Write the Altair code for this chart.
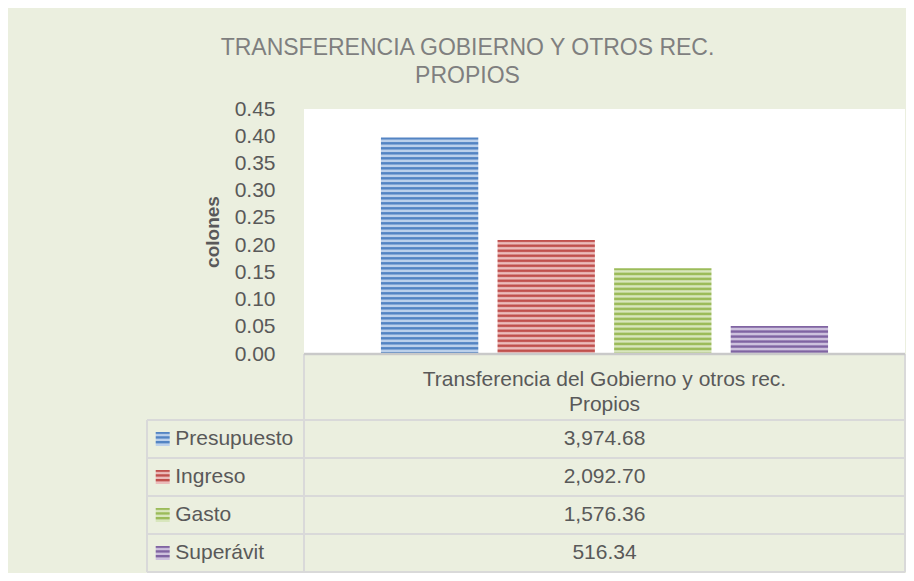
import altair as alt
import pandas as pd

# ---- data ----
series = ["Presupuesto", "Ingreso", "Gasto", "Superávit"]
values = [3974.68, 2092.70, 1576.36, 516.34]
category = "Transferencia del Gobierno y otros rec.\nPropios"
y_ticks = [0.00, 0.05, 0.10, 0.15, 0.20, 0.25, 0.30, 0.35, 0.40, 0.45]
title_lines = ["TRANSFERENCIA GOBIERNO Y OTROS REC.", "PROPIOS"]
axis_title = "colones"
axis_divisor = 10000  # bars are drawn on the axis in units of 10,000

# ---- styling ----
dark = ["#5384C3", "#C0504D", "#9BBB59", "#8064A2"]
light = ["#BBD0EB", "#EBBCBB", "#D8E6BD", "#CDC1DD"]
FONT = "Liberation Sans"
TXT = "#595959"
GRID = "#D9D9D9"
BG = "#EBEFDF"
W, H = 601, 245
YMAX = 0.45


def stripes(c_dark, c_light, h, period=5.0):
    profile = [(0.0, c_dark), (1.3, c_dark), (2.6, c_light), (3.9, c_light)]
    stops = []
    k = 0
    done = False
    while not done:
        for off, c in profile:
            y = k * period + off
            if y >= h:
                done = True
                break
            stops.append({"offset": round(y / h, 5), "color": c})
        k += 1
    stops.append({"offset": 1, "color": stops[-1]["color"]})
    return {"gradient": "linear", "x1": 0, "y1": 0, "x2": 0, "y2": 1, "stops": stops}


df = pd.DataFrame({
    "serie": series,
    "valor": values,
    "altura": [v / axis_divisor for v in values],
    "fila": [i + 0.5 for i in range(len(series))],
    "texto": [f"{v:,.2f}" for v in values],
})

xscale = alt.Scale(domain=series, paddingInner=0.165, paddingOuter=0.66)
yscale = alt.Scale(domain=[0, YMAX], nice=False, zero=False)
# table geometry scales: rows (-1 = header top, 0..4 data rows), columns (0 label col, 1 value col, 2 right edge)
rowscale = alt.Scale(domain=[-1, 0, 4], range=[H, H + 66, H + 66 + 152], nice=False, zero=False)
colscale = alt.Scale(domain=[0, 1, 2], range=[-157, 0, W], nice=False, zero=False)

layers = []
for i, s in enumerate(series):
    sub = df[df["serie"] == s]
    hpx = sub["altura"].iloc[0] / YMAX * H
    if i == 0:
        yaxis = alt.Axis(values=y_ticks, format=".2f", grid=False, ticks=False, domain=False,
                         labelFlush=False, labelPadding=29, labelFontSize=21, labelColor=TXT,
                         labelFont=FONT, title=axis_title, titleFont=FONT, titleFontSize=19,
                         titleFontWeight="bold", titleColor=TXT, titlePadding=12)
    else:
        yaxis = None
    layers.append(
        alt.Chart(sub).mark_bar(fill=stripes(dark[i], light[i], hpx)).encode(
            x=alt.X("serie:N", scale=xscale, axis=None),
            y=alt.Y("altura:Q", scale=yscale, axis=yaxis),
        )
    )
    layers.append(
        alt.Chart(sub).mark_square(size=196, fill=stripes(dark[i], light[i], 14, period=4.7), opacity=1).encode(
            x=alt.X("c:Q", scale=colscale, axis=None),
            y=alt.Y("fila:Q", scale=rowscale, axis=None),
        ).transform_calculate(c="0.1")
    )

# table grid lines
hl = pd.DataFrame({"r": [0, 1, 2, 3, 4], "c0": [0] * 5, "c1": [2] * 5})
layers.append(
    alt.Chart(hl).mark_rule(color=GRID, strokeWidth=2).encode(
        x=alt.X("c0:Q", scale=colscale, axis=None), x2="c1:Q",
        y=alt.Y("r:Q", scale=rowscale, axis=None),
    )
)
vl = pd.DataFrame({"c": [0, 1, 2], "r0": [0, -1, -1], "r1": [4, 4, 4]})
layers.append(
    alt.Chart(vl).mark_rule(color=GRID, strokeWidth=2).encode(
        x=alt.X("c:Q", scale=colscale, axis=None),
        y=alt.Y("r0:Q", scale=rowscale, axis=None), y2="r1:Q",
    )
)
top = pd.DataFrame({"r": [-1], "c0": [1], "c1": [2]})
layers.append(
    alt.Chart(top).mark_rule(color="#C9C9C9", strokeWidth=2.5).encode(
        x=alt.X("c0:Q", scale=colscale, axis=None), x2="c1:Q",
        y=alt.Y("r:Q", scale=rowscale, axis=None),
    )
)

# header (category) text
hdr = pd.DataFrame({"cat": [category], "c": [1.5], "r": [-0.6]})
layers.append(
    alt.Chart(hdr).mark_text(font=FONT, fontSize=21, color=TXT, lineBreak="\n", lineHeight=25,
                             align="center", baseline="middle").encode(
        x=alt.X("c:Q", scale=colscale, axis=None),
        y=alt.Y("r:Q", scale=rowscale, axis=None),
        text="cat:N",
    )
)
# row labels
layers.append(
    alt.Chart(df).mark_text(font=FONT, fontSize=21, color=TXT, align="left", baseline="middle").encode(
        x=alt.X("c:Q", scale=colscale, axis=None),
        y=alt.Y("fila:Q", scale=rowscale, axis=None),
        text="serie:N",
    ).transform_calculate(c="0.18")
)
# values
layers.append(
    alt.Chart(df).mark_text(font=FONT, fontSize=21, color=TXT, align="center", baseline="middle").encode(
        x=alt.X("c:Q", scale=colscale, axis=None),
        y=alt.Y("fila:Q", scale=rowscale, axis=None),
        text="texto:N",
    ).transform_calculate(c="1.5")
)

chart = alt.layer(*layers).resolve_scale(x="independent", y="independent").properties(
    width=W, height=H,
    autosize=alt.AutoSizeParams(type="none"),
    padding={"left": 296, "top": 101, "right": 1, "bottom": 219},
    title=alt.Title(title_lines, font=FONT, fontSize=23, color="#7F7F7F", fontWeight="normal",
                    anchor="middle", dx=-137, offset=10, lineHeight=28),
).configure(background=BG).configure_view(fill="white", stroke=None)

chart.save("out.html", embed_options={"renderer": "svg", "actions": False})
